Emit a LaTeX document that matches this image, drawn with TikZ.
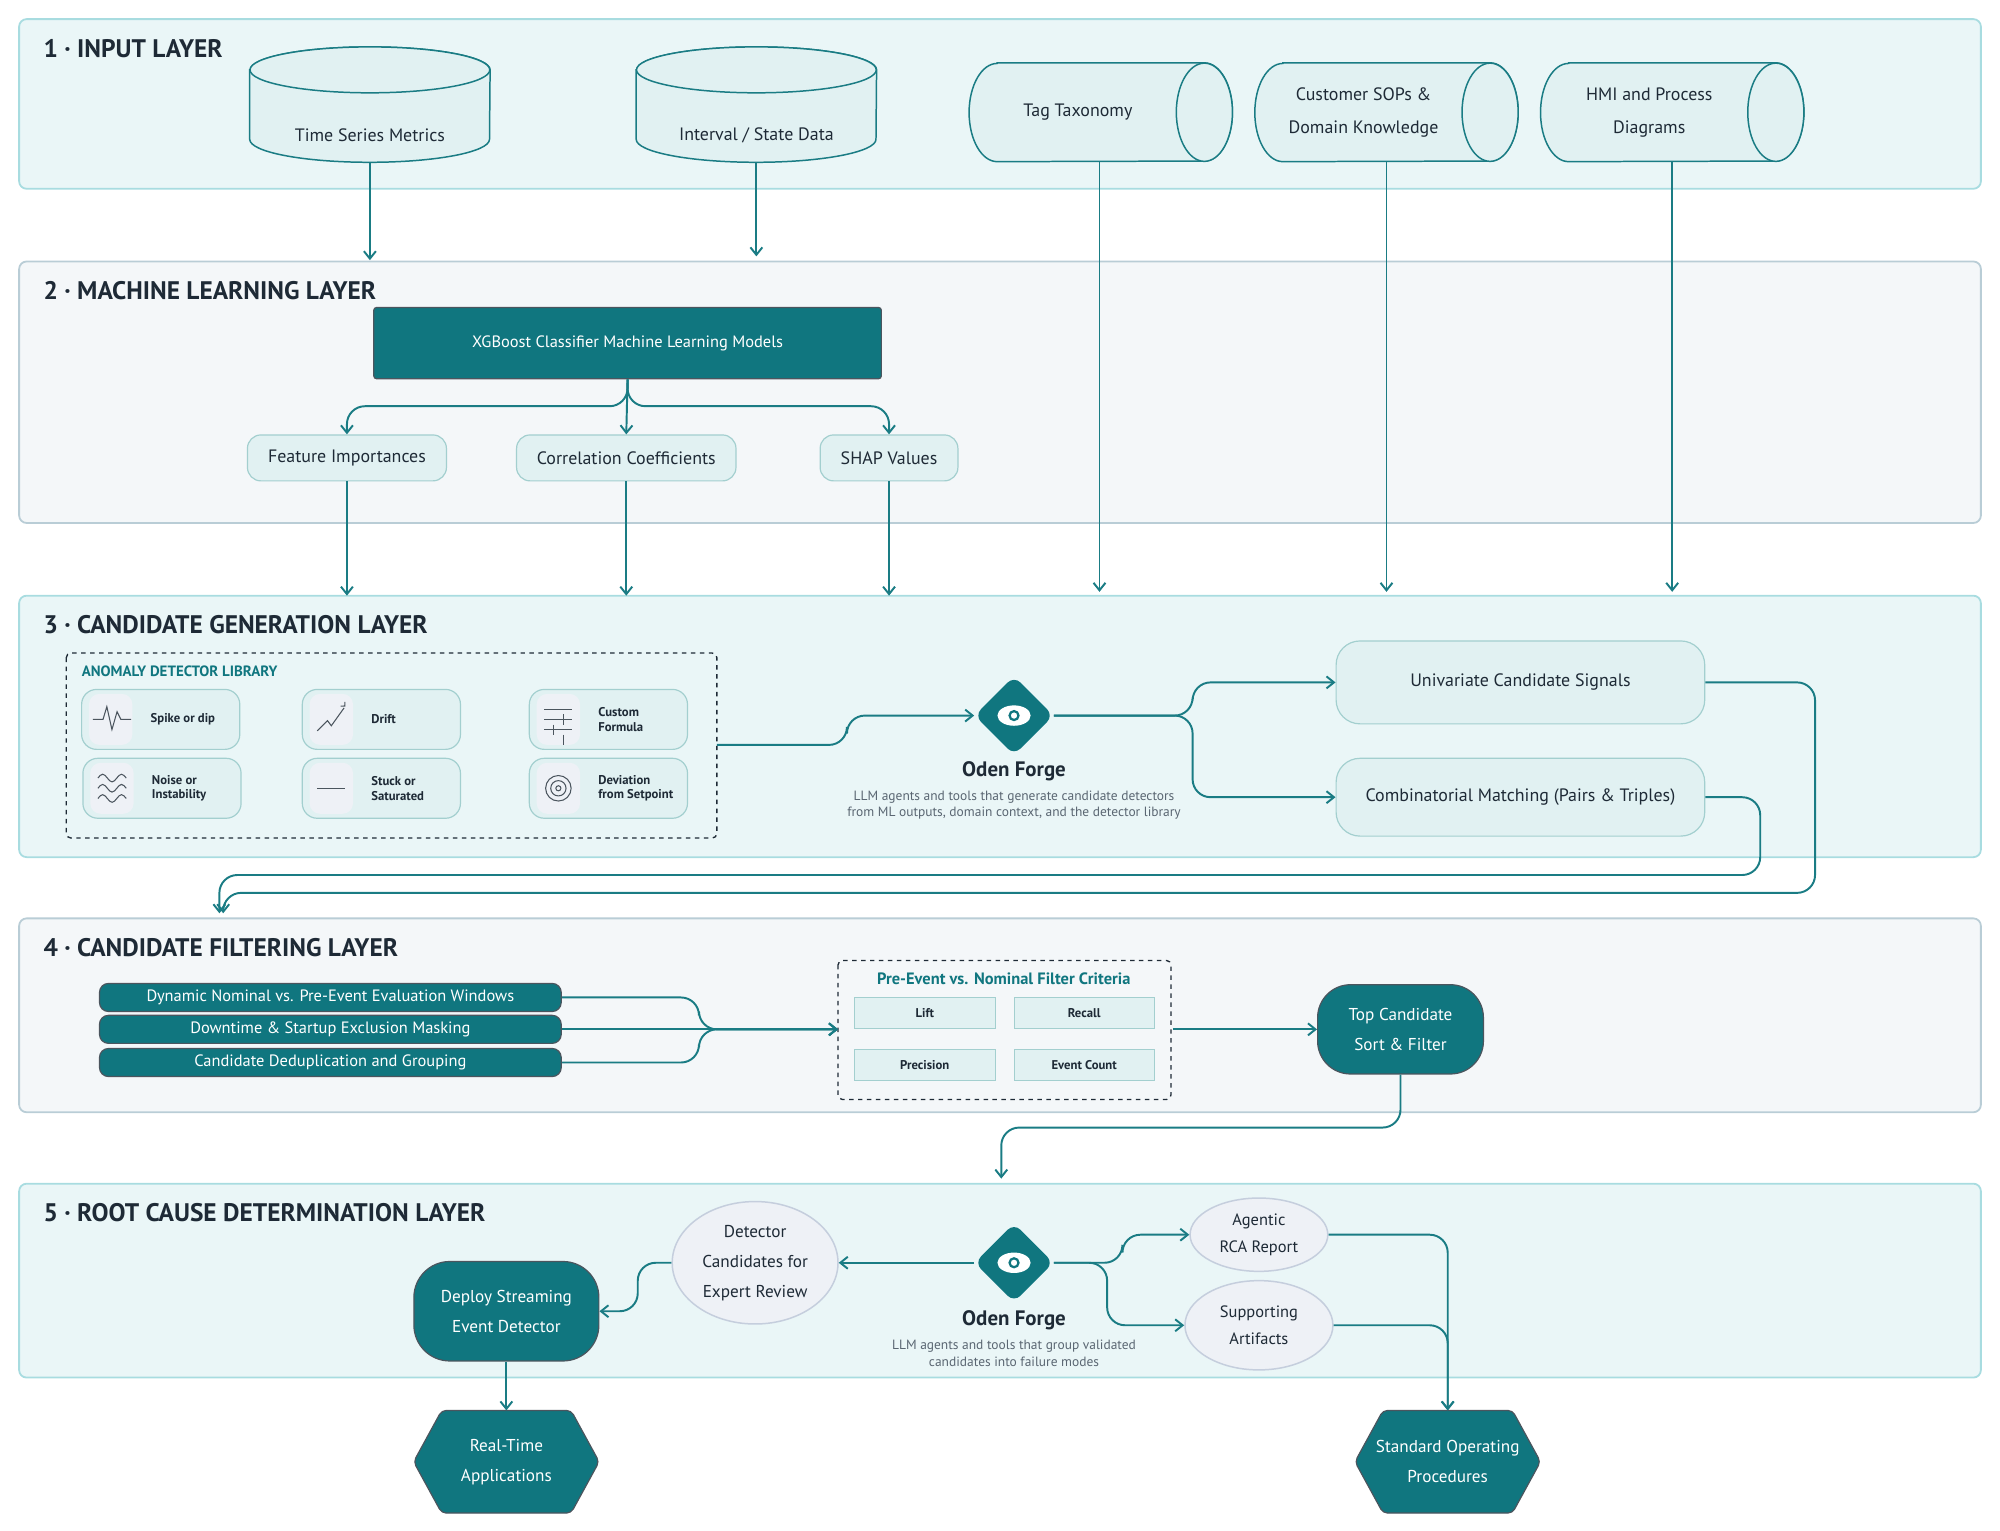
\documentclass[tikz,border=0pt]{standalone}
\usepackage{fontspec}
\setmainfont{PT Sans}
\usepackage{tikz}
\usetikzlibrary{arrows.meta,positioning,calc,shapes.geometric}
\definecolor{teal1}{HTML}{10767F}
\definecolor{tline}{HTML}{1A7C84}
\definecolor{lay1}{HTML}{EAF6F7}
\definecolor{lay1b}{HTML}{A8DCE0}
\definecolor{lay2}{HTML}{F4F7F9}
\definecolor{lay2b}{HTML}{B9CDD6}
\definecolor{pillf}{HTML}{E1F1F2}
\definecolor{pillb}{HTML}{A3CFCF}
\definecolor{greyf}{HTML}{EEF1F6}
\definecolor{greyb}{HTML}{C5CEDD}
\definecolor{ink}{HTML}{1E2A36}
\definecolor{subink}{HTML}{5A6672}
\newcommand{\pu}{0.03cm}
% vertical drum around a box node
\newcommand{\vdrum}[1]{%
  \draw[cylb] ([yshift=-18*\pu]#1.north west) -- ([yshift=18*\pu]#1.south west)
    arc[start angle=180, end angle=360, x radius=94*\pu, y radius=18*\pu]
    -- ([yshift=-18*\pu]#1.north east)
    arc[start angle=0, end angle=180, x radius=94*\pu, y radius=18*\pu] -- cycle;
  \draw[cylb] ([yshift=-18*\pu]#1.north) ellipse[x radius=94*\pu, y radius=18*\pu];}
% horizontal drum around a box node
\newcommand{\hdrum}[1]{%
  \draw[cylb] ([xshift=22*\pu]#1.north west) -- ([xshift=-22*\pu]#1.north east)
    arc[start angle=90, end angle=-90, x radius=22*\pu, y radius=38.5*\pu]
    -- ([xshift=22*\pu]#1.south west)
    arc[start angle=270, end angle=90, x radius=22*\pu, y radius=38.5*\pu] -- cycle;
  \draw[cylb] ([xshift=-22*\pu]#1.east) ellipse[x radius=22*\pu, y radius=38.5*\pu];}
% hexagon around a box node
\newcommand{\hexdraw}[1]{%
  \draw[hexb] (#1.west) -- ([xshift=22*\pu]#1.north west) -- ([xshift=-22*\pu]#1.north east)
    -- (#1.east) -- ([xshift=-22*\pu]#1.south east) -- ([xshift=22*\pu]#1.south west) -- cycle;}

\begin{document}
\begin{tikzpicture}[
  x=0.03cm, y=-0.03cm, font=\fontsize{12}{14}\selectfont, text=ink,
  layerA/.style={draw=lay1b, fill=lay1, line width=1.2pt, rounded corners=5pt},
  layerB/.style={draw=lay2b, fill=lay2, line width=1.2pt, rounded corners=5pt},
  title/.style={anchor=west, font=\fontsize{17}{20}\selectfont\bfseries},
  cylb/.style={draw=tline, fill=pillf, line width=1pt},
  hexb/.style={draw=ink!80, fill=teal1, line width=0.8pt, rounded corners=3pt},
  box/.style={inner sep=0pt, minimum width=#1},
  dark/.style={draw=ink!80, fill=teal1, text=white, line width=0.8pt, align=center},
  pill/.style={draw=pillb, fill=pillf, rounded corners=9pt, line width=0.8pt,
               minimum height=36*\pu},
  card/.style={draw=pillb, fill=pillf, rounded corners=10pt, line width=0.8pt,
               minimum width=124*\pu, minimum height=47*\pu},
  ico/.style={fill=greyf, rounded corners=7pt, minimum width=34*\pu, minimum height=40*\pu},
  ctext/.style={anchor=west, align=left, font=\fontsize{8.5}{10}\selectfont\bfseries},
  crit/.style={draw=pillb, fill=pillf, minimum width=110*\pu, minimum height=24*\pu,
               font=\fontsize{8.5}{10}\selectfont\bfseries},
  bar/.style={dark, rounded corners=6pt, minimum width=362*\pu, minimum height=22*\pu,
              font=\fontsize{11}{13}\selectfont},
  oval/.style={ellipse, draw=greyb, fill=greyf, line width=1pt, align=center,
               font=\fontsize{11.5}{20}\selectfont},
  hexa/.style={inner sep=0pt, minimum width=145*\pu, minimum height=80*\pu},
  htext/.style={text=white, align=center, font=\fontsize{11.5}{20}\selectfont},
  dbox/.style={draw=ink, dashed, line width=0.9pt, rounded corners=3pt},
  arr/.style={-{Straight Barb[length=5pt,width=8pt]}, tline, line width=1.3pt,
              rounded corners=12pt},
  desc/.style={font=\fontsize{9}{11}\selectfont, text=subink, align=center}
]
\useasboundingbox (0,0) rectangle (1568,1200);

% layer backgrounds
\draw[layerA] (15,15) rectangle (1553,148);
\draw[layerB] (15,205) rectangle (1553,410);
\draw[layerA] (15,467) rectangle (1553,672);
\draw[layerB] (15,720) rectangle (1553,872);
\draw[layerA] (15,928) rectangle (1553,1080);
\node[title] (t1) at (30,38) {1 · INPUT LAYER};
\node[title] (t2) at (30,228) {2 · MACHINE LEARNING LAYER};
\node[title] (t3) at (30,490) {3 · CANDIDATE GENERATION LAYER};
\node[title] (t4) at (30,743) {4 · CANDIDATE FILTERING LAYER};
\node[title] (t5) at (30,951) {5 · ROOT CAUSE DETERMINATION LAYER};

% input sources
\node[box=188*\pu, minimum height=90*\pu] (tsm) at (290,82) {};
\node[box=188*\pu, minimum height=90*\pu] (isd) at (593,82) {};
\node[box=206*\pu, minimum height=77*\pu] (tag) at (863,88) {};
\node[box=206*\pu, minimum height=77*\pu] (sop) at (1087,88) {};
\node[box=206*\pu, minimum height=77*\pu] (hmi) at (1311,88) {};
\vdrum{tsm} \vdrum{isd} \hdrum{tag} \hdrum{sop} \hdrum{hmi}
\node (tsmT) at (290,106) {Time Series Metrics};
\node (isdT) at (593,106) {Interval / State Data};
\node (tagT) at ([xshift=-18*\pu]tag.center) {Tag Taxonomy};
\node[align=center, font=\fontsize{12}{22}\selectfont] (sopT) at ([xshift=-18*\pu]sop.center) {Customer SOPs \&\\Domain Knowledge};
\node[align=center, font=\fontsize{12}{22}\selectfont] (hmiT) at ([xshift=-18*\pu]hmi.center) {HMI and Process\\Diagrams};

% ML layer
\node[dark, rounded corners=2pt, minimum width=398*\pu, minimum height=56*\pu, font=\fontsize{11}{13}\selectfont] (xgb) at (492,269) {XGBoost Classifier Machine Learning Models};
\node[pill, minimum width=156*\pu] (fi) at (272,359) {Feature Importances};
\node[pill, minimum width=172*\pu] (cc) at (491,359) {Correlation Coefficients};
\node[pill, minimum width=108*\pu] (shap) at (697,359) {SHAP Values};
\draw[arr] (xgb.south) -- ++(0,21) -| (fi.north);
\draw[arr] (xgb.south) -- ++(0,21) -| (shap.north);
\draw[arr] (xgb.south) -- (cc.north);

\draw[arr] (tsm.south) -- (290,204);
\draw[arr] (isd.south) -- (593,201);
\draw[arr] (tag.south -| 862,0) -- (862,464);
\draw[arr] (sop.south) -- (1087,464);
\draw[arr] (hmi.south) -- (1311,464);
\draw[arr] (fi.south) -- (272,467);
\draw[arr] (cc.south) -- (491,467);
\draw[arr] (shap.south) -- (697,467);

% detector library
\draw[dbox] (52,512) rectangle (562,657);
\node[anchor=west, text=teal1, font=\fontsize{10}{12}\selectfont\bfseries] (libT) at (60,526) {ANOMALY DETECTOR LIBRARY};
\coordinate (lib) at (562,584);
\foreach \n/\cx/\cy/\txt in {sp/126/564/{Spike or dip}, dr/299/564/{Drift}, cf/477/564/{Custom\\Formula},
    no/127/618/{Noise or\\Instability}, st/299/618/{Stuck or\\Saturated}, dv/477/618/{Deviation\\from Setpoint}}{
  \node[card] (\n) at (\cx,\cy) {};
  \node[ico, right=6*\pu of \n.west] (\n I) {};
  \node[ctext, right=10*\pu of \n I.east] (\n T) {\txt};
}
\draw[ink!80, line width=0.7pt] ([xshift=-14*\pu]spI.center) -- ++(8,0) -- ++(3,-10) -- ++(4,18) -- ++(4,-14) -- ++(3,6) -- ++(8,0);
\draw[ink!80, line width=0.7pt] ([shift={(-11*\pu,-9*\pu)}]drI.center) -- ++(8,-8) -- ++(3,4) -- ++(10,-14);
\draw[ink!80, line width=0.7pt, -{Straight Barb[length=2pt]}] ([shift={(10*\pu,11*\pu)}]drI.center) -- ++(1,1);
\foreach \dy in {-8,0,8}
  \draw[ink!80, line width=0.7pt] ([shift={(-11*\pu,\dy*\pu)}]cfI.center) -- ++(22,0);
\draw[ink!80, line width=0.7pt] ([shift={(4*\pu,-12*\pu)}]cfI.center) -- ++(0,8)
  ([shift={(-4*\pu,-4*\pu)}]cfI.center) -- ++(0,8) ([shift={(4*\pu,4*\pu)}]cfI.center) -- ++(0,8);
\foreach \dy in {-8,0,8}
  \draw[ink!80, line width=0.7pt] ([shift={(-11*\pu,\dy*\pu)}]noI.center) sin ++(3.7,-3) cos ++(3.7,3) sin ++(3.7,3) cos ++(3.7,-3) sin ++(3.7,-3) cos ++(3.7,3);
\draw[ink!80, line width=0.9pt] ([xshift=-11*\pu]stI.center) -- ++(22,0);
\foreach \r in {2,6,10}
  \draw[ink!80, line width=0.7pt] (dvI.center) circle[radius=\r*\pu];

% Oden Forge (generation)
\node[diamond, aspect=1, fill=teal1, rounded corners=6pt, minimum size=62*\pu] (forge1) at (795,561) {};
\node[ellipse, fill=white, minimum width=26*\pu, minimum height=16*\pu, inner sep=0pt] (eye1) at (forge1.center) {};
\node[circle, draw=teal1, line width=1.5pt, fill=white, minimum size=7*\pu, inner sep=0pt] (pup1) at (eye1.center) {};
\node[font=\fontsize{14}{16}\selectfont\bfseries] (of1T) at (795,605) {Oden Forge};
\node[desc] (of1D) at (795,631) {LLM agents and tools that generate candidate detectors\\from ML outputs, domain context, and the detector library};
\draw[arr] (lib) -- (664,584) |- (forge1.west);

\node[pill, rounded corners=16pt, minimum width=289*\pu, minimum height=65*\pu] (uni) at (1192,535) {Univariate Candidate Signals};
\node[pill, rounded corners=16pt, minimum width=289*\pu, minimum height=61*\pu] (comb) at (1192,625) {Combinatorial Matching (Pairs \& Triples)};
\draw[arr] (forge1.east) -- (935,561) |- (uni.west);
\draw[arr] (forge1.east) -- (935,561) |- (comb.west);

% filtering layer
\node[bar] (b1) at (259,782) {Dynamic Nominal vs. Pre-Event Evaluation Windows};
\node[bar] (b2) at (259,807) {Downtime \& Startup Exclusion Masking};
\node[bar] (b3) at (259,833) {Candidate Deduplication and Grouping};
\draw[dbox] (657,753) rectangle (918,862);
\coordinate (crW) at (657,807);
\coordinate (crE) at (918,807);
\node[text=teal1, font=\fontsize{11}{13}\selectfont\bfseries] (crT) at (787,767) {Pre-Event vs. Nominal Filter Criteria};
\node[crit] (lift) at (725,794) {Lift};
\node[crit] (rec) at (850,794) {Recall};
\node[crit] (prec) at (725,835) {Precision};
\node[crit] (evc) at (850,835) {Event Count};
\node[dark, rounded corners=22pt, minimum width=130*\pu, minimum height=70*\pu, font=\fontsize{11.5}{20}\selectfont] (top) at (1098,807) {Top Candidate\\Sort \& Filter};
\draw[arr] (b1.east) -- (548,782) -- (548,807) -- (crW);
\draw[arr] (b3.east) -- (548,833) -- (548,807) -- (crW);
\draw[arr] (b2.east) -- (crW);
\draw[arr] ([xshift=2*\pu]crE) -- (top.west);

% routes into filtering
\draw[arr] (uni.east) -- (1423,535) |- (175,700) -- (175,716);
\draw[arr] (comb.east) -- (1380,625) |- (172,686) -- (172,716);
\draw[arr] (top.south) |- (785,884) -- (785,924);

% root cause layer
\node[diamond, aspect=1, fill=teal1, rounded corners=6pt, minimum size=62*\pu] (forge2) at (795,990) {};
\node[ellipse, fill=white, minimum width=26*\pu, minimum height=16*\pu, inner sep=0pt] (eye2) at (forge2.center) {};
\node[circle, draw=teal1, line width=1.5pt, fill=white, minimum size=7*\pu, inner sep=0pt] (pup2) at (eye2.center) {};
\node[font=\fontsize{14}{16}\selectfont\bfseries] (of2T) at (795,1035) {Oden Forge};
\node[desc] (of2D) at (795,1061) {LLM agents and tools that group validated\\candidates into failure modes};
\node[oval, minimum width=130*\pu, minimum height=96*\pu] (det) at (592,990) {Detector\\Candidates for\\Expert Review};
\node[oval, minimum width=108*\pu, minimum height=52*\pu, font=\fontsize{11}{18}\selectfont] (rca) at (987,968) {Agentic\\RCA Report};
\node[oval, minimum width=116*\pu, minimum height=70*\pu, font=\fontsize{11}{18}\selectfont] (art) at (987,1039) {Supporting\\Artifacts};
\node[dark, rounded corners=24pt, minimum width=145*\pu, minimum height=78*\pu, font=\fontsize{11.5}{20}\selectfont] (dep) at (397,1028) {Deploy Streaming\\Event Detector};
\node[hexa] (rt) at (397,1146) {};
\node[hexa] (sopx) at (1135,1146) {};
\hexdraw{rt} \hexdraw{sopx}
\node[htext] (rtT) at (rt.center) {Real-Time\\Applications};
\node[htext] (sopxT) at (sopx.center) {Standard Operating\\Procedures};

\draw[arr] (forge2.west) -- (det.east);
\draw[arr] (det.west) -- (500,990) |- (dep.east);
\draw[arr] (forge2.east) -- (880,990) |- (rca.west);
\draw[arr] (forge2.east) -- (868,990) |- (art.west);
\draw[arr] (dep.south) -- (rt.north);
\draw[arr] (rca.east) -| (sopx.north);
\draw[arr] (art.east) -| (sopx.north);
\end{tikzpicture}
\end{document}
